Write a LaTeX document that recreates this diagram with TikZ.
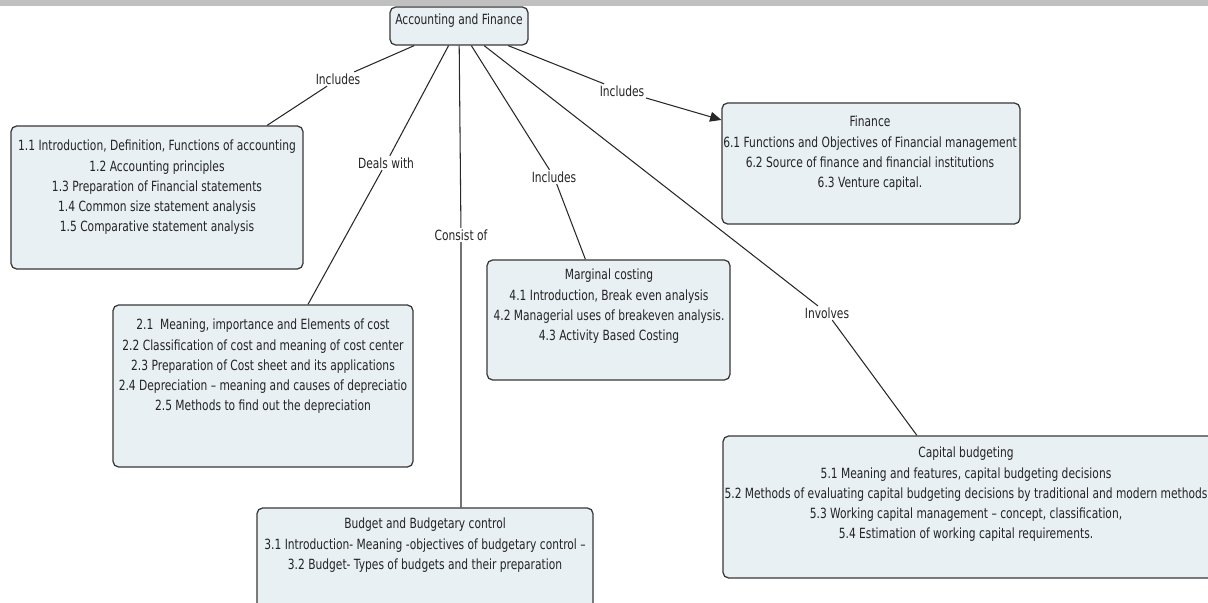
\documentclass[tikz,border=0pt]{standalone}
\usepackage{fontspec}
\setmainfont{DejaVu Sans}[FakeStretch=0.76]
\usepackage{tikz}
\usetikzlibrary{
  arrows.meta,
  positioning,
  fit
}
\tikzset{
  every node/.style={inner sep=2pt}
}
\definecolor{mapBar}{RGB}{192, 192, 192}
\definecolor{topicFill}{RGB}{233, 240, 244}
\definecolor{topicBorder}{RGB}{55, 55, 55}
\definecolor{linkGray}{RGB}{40, 40, 40}
\definecolor{textGray}{RGB}{35, 35, 35}

\begin{document}
\begin{tikzpicture}[
    x=0.025cm, y=-0.025cm,
    font=\fontsize{10}{14.4}\selectfont,
    box/.style={rectangle, draw=topicBorder, fill=topicFill, rounded corners=4pt, line width=0.9pt, inner sep=0pt, text=textGray},
    topics/.style={anchor=north, align=center, inner sep=0pt, text=textGray},
    linkname/.style={inner sep=1pt, text=textGray},
    link/.style={draw=linkGray, line width=0.75pt}
]
    \useasboundingbox (0,0) rectangle (1208,603);
    \clip (0,0) rectangle (1208,603);
    \fill[mapBar] (0,0) rectangle (1208,6);

    \node[box, fit={(390,7) (528,45)}] (root) {Accounting and Finance};

    % topic boxes
    \node[box, fit={(11,126) (303,269)}] (accounts) {};
    \node[topics] (accountsText) at (157,140) {
        1.1 Introduction, Definition, Functions of accounting \\ 1.2 Accounting principles \\ 1.3 Preparation of Financial statements \\ 1.4 Common size statement analysis \\ 1.5 Comparative statement analysis
    };

    \node[box, fit={(113,305) (413,467)}] (costs) {};
    \node[topics] (costsText) at (263,319) {
        2.1\ \ Meaning, importance and Elements of cost \\ 2.2 Classification of cost and meaning of cost center \\ 2.3 Preparation of Cost sheet and its applications \\ 2.4 Depreciation – meaning and causes of depreciatio \\ 2.5 Methods to find out the depreciation
    };

    \node[box, fit={(257,508) (593,640)}] (budget) {};
    \node[topics] (budgetText) at (425,518) {
        Budget and Budgetary control \\ 3.1 Introduction- Meaning -objectives of budgetary control – \\ 3.2 Budget- Types of budgets and their preparation
    };

    \node[box, fit={(487,260) (730,380)}] (marginal) {};
    \node[topics] (marginalText) at (609,269) {
        Marginal costing \\ 4.1 Introduction, Break even analysis \\ 4.2 Managerial uses of breakeven analysis. \\ 4.3 Activity Based Costing
    };

    \node[box, fit={(723,436) (1216,578)}] (capital) {};
    \node[topics] (capitalText) at (966,447) {
        Capital budgeting \\ 5.1 Meaning and features, capital budgeting decisions \\ 5.2 Methods of evaluating capital budgeting decisions by traditional and modern methods \\ 5.3 Working capital management – concept, classification, \\ 5.4 Estimation of working capital requirements.
    };

    \node[box, fit={(722,103) (1020,224)}] (finance) {};
    \node[topics] (financeText) at (870,116) {
        Finance \\ 6.1 Functions and Objectives of Financial management \\ 6.2 Source of finance and financial institutions \\ 6.3 Venture capital.
    };

    % linking phrases
    \node[linkname] (incAccounts) at (338,79) {Includes};
    \node[linkname] (dealsCosts) at (386,163) {Deals with};
    \node[linkname] (consistBudget) at (461,235) {Consist of};
    \node[linkname] (incMarginal) at (554,177) {Includes};
    \node[linkname] (involvesCapital) at (827,313) {Involves};
    \node[linkname] (incFinance) at (622,91) {Includes};

    \draw[link] (root) -- (incAccounts) -- (accounts);
    \draw[link] (root) -- (dealsCosts) -- (costs);
    \draw[link] (root) -- (consistBudget) -- (consistBudget |- budget.north);
    \draw[link] (root) -- (incMarginal) -- (marginal);
    \draw[link] (root) -- (involvesCapital) -- (capital);
    \draw[link, -{Triangle[length=8pt, width=7pt]}] (root) -- (incFinance) -- (finance);

\end{tikzpicture}
\end{document}
